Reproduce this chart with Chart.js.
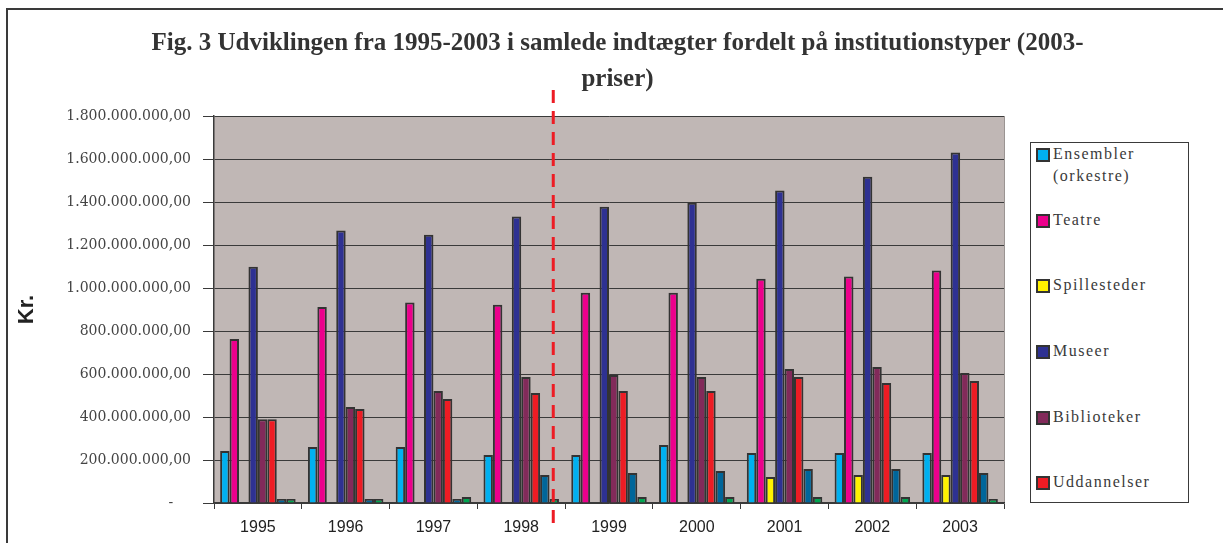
<!DOCTYPE html>
<html>
<head>
<meta charset="utf-8">
<script src="https://cdn.jsdelivr.net/npm/chart.js@4/dist/chart.umd.min.js"></script>
<style>
  html, body { margin: 0; padding: 0; background: #fff; }
  #wrap { position: relative; width: 1223px; height: 543px; overflow: hidden; }
  #frame { position: absolute; left: 6px; top: 8px; width: 1300px; height: 600px;
           border-top: 2px solid #3a3a3a; border-left: 2px solid #3a3a3a; }
  #chart { position: absolute; left: 0; top: 0; }
  #legend { position: absolute; left: 1030px; top: 142px; width: 157px; height: 359px;
            border: 1px solid #3a3a3a; background: #fff; margin: 0; padding: 0; list-style: none;
            font-family: 'Liberation Serif', serif; font-size: 16px; letter-spacing: 1.5px; color: #3a3a3a;
            overflow: hidden; }
  #legend li { position: relative; height: 65.7px; line-height: 22px; padding-left: 22px; }
  #legend li span.sw { position: absolute; left: 5px; top: 5px; width: 10px; height: 10px;
                       border: 2px solid #333; }
</style>
</head>
<body>
<div id="wrap">
  <div id="frame"></div>
  <canvas id="chart" width="1223" height="543"></canvas>
  <ul id="legend"></ul>
</div>
<script>
// ===== 数据 =====
const years = ['1995', '1996', '1997', '1998', '1999', '2000', '2001', '2002', '2003'];

const ensembler    = [242e6, 260e6, 260e6, 223e6, 223e6, 270e6, 233e6, 233e6, 233e6];
const teatre       = [763e6, 912e6, 932e6, 922e6, 978e6, 978e6, 1043e6, 1053e6, 1081e6];
const spillesteder = [null, null, null, null, null, null, 121e6, 130e6, 130e6];
const museer       = [1099e6, 1267e6, 1248e6, 1332e6, 1378e6, 1397e6, 1453e6, 1518e6, 1630e6];
const biblioteker  = [389e6, 446e6, 521e6, 586e6, 595e6, 586e6, 623e6, 633e6, 605e6];
const uddannelser  = [389e6, 437e6, 484e6, 512e6, 521e6, 521e6, 586e6, 558e6, 567e6];
// de to sidste serier er skåret af i forklaringen
const serie7       = [19e6, 19e6, 19e6, 130e6, 140e6, 149e6, 158e6, 158e6, 140e6];
const serie8       = [19e6, 19e6, 28e6, 19e6, 28e6, 28e6, 28e6, 28e6, 19e6];

const seriesNames  = [['Ensembler', '(orkestre)'], 'Teatre', 'Spillesteder', 'Museer', 'Biblioteker', 'Uddannelser', 'Serie 7', 'Serie 8'];
const seriesData   = [ensembler, teatre, spillesteder, museer, biblioteker, uddannelser, serie7, serie8];
const seriesColors = ['#00B0F0', '#EC008C', '#FFF200', '#2E3192', '#822A5A', '#ED1C24', '#00669A', '#00A651'];
const legendCount  = 6;

const yTicks = { min: 0, max: 1800000000, step: 200000000 };
const titleLines = ['Fig. 3 Udviklingen fra 1995-2003 i samlede indtægter fordelt på institutionstyper (2003-', 'priser)'];

// dansk talformat: 1.800.000.000,00
function fmtKr(v) {
    if (v === 0) return '-    ';
    const int = Math.round(v).toString().replace(/\B(?=(\d{3})+(?!\d))/g, '.');
    return int + ',00';
}

// baggrund i plotområdet
const plotBg = {
    id: 'plotBg',
    beforeDraw(chart) {
        const { ctx, chartArea: a } = chart;
        ctx.save();
        ctx.fillStyle = '#C0B7B5';
        ctx.fillRect(a.left, a.top, a.right - a.left, a.bottom - a.top);
        ctx.strokeStyle = '#9a9492';
        ctx.lineWidth = 1;
        ctx.beginPath();
        ctx.moveTo(a.right + 0.5, a.top);
        ctx.lineTo(a.right + 0.5, a.bottom);
        ctx.stroke();
        ctx.restore();
    }
};

// titel centreret over hele figuren
const figTitle = {
    id: 'figTitle',
    afterDraw(chart) {
        const { ctx } = chart;
        ctx.save();
        ctx.fillStyle = '#333';
        ctx.font = "bold 25px 'Liberation Serif', serif";
        ctx.textAlign = 'center';
        ctx.textBaseline = 'middle';
        const cx = (chart.width + 12) / 2;
        titleLines.forEach((t, i) => ctx.fillText(t, cx, 44 + i * 36));
        ctx.restore();
    }
};

// rød stiplet linje mellem 1998 og 1999
const splitLine = {
    id: 'splitLine',
    afterDatasetsDraw(chart) {
        const { ctx, chartArea: a } = chart;
        const x = chart.scales.x;
        const p0 = x.getPixelForValue(3), p1 = x.getPixelForValue(4);
        const px = p0 + (p1 - p0) * 0.365;
        ctx.save();
        ctx.strokeStyle = '#ED1C24';
        ctx.lineWidth = 3;
        ctx.setLineDash([13, 8]);
        ctx.beginPath();
        ctx.moveTo(px, a.top - 26);
        ctx.lineTo(px, a.bottom + 20);
        ctx.stroke();
        ctx.restore();
    }
};

const chart = new Chart(document.getElementById('chart').getContext('2d'), {
    type: 'bar',
    data: {
        labels: years,
        datasets: seriesData.map((d, i) => ({
            label: Array.isArray(seriesNames[i]) ? seriesNames[i].join(' ') : seriesNames[i],
            data: d,
            backgroundColor: seriesColors[i],
            borderColor: '#333',
            borderWidth: 2,
            categoryPercentage: 0.86,
            barPercentage: 1.0
        }))
    },
    options: {
        responsive: false,
        animation: false,
        layout: { padding: { left: 0, right: 219, top: 116, bottom: 0 } },
        plugins: {
            legend: { display: false },
            tooltip: { enabled: false },
            title: { display: false }
        },
        scales: {
            x: {
                afterFit(s) { s.height = 40; },
                grid: { offset: true, drawOnChartArea: false, drawTicks: true, tickLength: 6, color: '#3a3a3a' },
                border: { color: '#3a3a3a', width: 1.5 },
                ticks: { color: '#222', padding: 9, font: { family: "'Liberation Sans', Arial, sans-serif", size: 16 } }
            },
            y: {
                min: yTicks.min,
                max: yTicks.max,
                afterFit(s) { s.width = 214; },
                grid: { color: '#3a3a3a', lineWidth: 1, tickLength: 11 },
                border: { color: '#3a3a3a', width: 1.5 },
                ticks: {
                    stepSize: yTicks.step,
                    padding: 12,
                    color: '#444',
                    font: { family: "'DejaVu Serif', serif", size: 14 },
                    callback: v => fmtKr(v)
                },
                title: {
                    display: true,
                    text: 'Kr.',
                    color: '#222',
                    padding: { top: 14, bottom: 0 },
                    font: { family: "'Liberation Sans', Arial, sans-serif", size: 22, weight: 'bold' }
                }
            }
        }
    },
    plugins: [plotBg, splitLine, figTitle]
});

// forklaring (kun de første seks serier er synlige)
const legendEl = document.getElementById('legend');
seriesNames.slice(0, legendCount).forEach((name, i) => {
    const li = document.createElement('li');
    const sw = document.createElement('span');
    sw.className = 'sw';
    sw.style.background = seriesColors[i];
    li.appendChild(sw);
    const lines = Array.isArray(name) ? name : [name];
    li.appendChild(document.createTextNode(lines[0]));
    lines.slice(1).forEach(l => {
        li.appendChild(document.createElement('br'));
        li.appendChild(document.createTextNode(l));
    });
    legendEl.appendChild(li);
});
</script>
</body>
</html>
